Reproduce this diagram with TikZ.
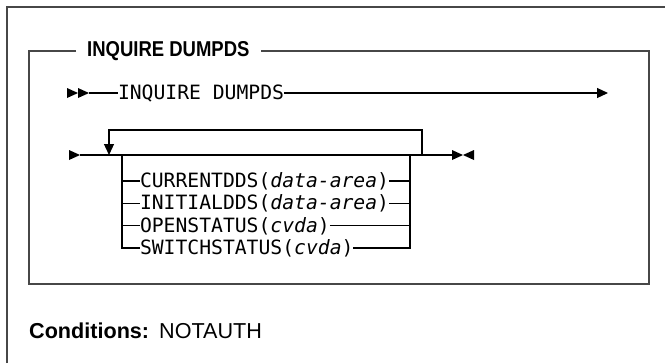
\documentclass[tikz,border=0pt]{standalone}
\usepackage{fontspec}
\setmainfont{Liberation Sans}
\newfontfamily\monofont{DejaVu Sans Mono}
\newfontfamily\headfont[FakeStretch=0.86]{Liberation Sans Bold}
\usetikzlibrary{arrows.meta}
\begin{document}
\begin{tikzpicture}[x=1bp,y=-1bp,
  frame/.style={draw=black!72, line width=1.5bp},
  rail/.style={draw=black, line width=1.2bp},
  kw/.style={font=\monofont\fontsize{19.7bp}{22bp}\selectfont, anchor=west,
    inner sep=0pt, outer sep=0pt, text height=13bp, text depth=0pt},
  heading/.style={font=\headfont\fontsize{21.5bp}{24bp}\selectfont, anchor=west,
    inner xsep=11bp, inner ysep=0pt},
  endarrow/.style={-{Triangle[length=11bp,width=10bp]}},
  rtri/.pic={\fill (0,-5) -- (11,0) -- (0,5) -- cycle;},
  ltri/.pic={\fill (11,-5) -- (0,0) -- (11,5) -- cycle;},
]
\useasboundingbox (0,0) rectangle (665,363);

% outer frame, open to the right and below
\coordinate (ob) at (7,363);
\coordinate (oc) at (7,7);
\coordinate (or) at (665,7);
\draw[frame] (ob) -- (oc) -- (or);

% titled syntax box
\node[heading] (title) at (76,51) {INQUIRE DUMPDS};
\coordinate (bl) at (29,284);
\coordinate (br) at (649,284);
\draw[frame] (title.west) -| (bl) -- (br) |- (title.east);

% first line: the command
\pic at (67,93) {rtri};
\pic at (78,93) {rtri};
\coordinate (s1) at (89,93);
\node[kw] (cmd) at (118,93) {INQUIRE DUMPDS};
\coordinate (e1) at (608,93);
\draw[rail] (s1) -- (cmd.west);
\draw[rail, endarrow] (cmd.east) -- (e1);

% second line: repeatable options
\pic at (69,155) {rtri};
\coordinate (s2) at (80,155);
\coordinate (e2) at (452,155);
\draw[rail] (s2) -- (e2);
\pic at (452,155) {rtri};
\pic at (463,155) {ltri};

% repeat loop
\coordinate (lr) at (422,155);
\coordinate (lt) at (109,130);
\coordinate (ll) at (109,155);
\draw[rail, endarrow] (lr) |- (lt) -- (ll);

% option stack
\coordinate (rl) at (122,155);
\coordinate (rr) at (410,155);
\node[kw] (o1) at (140,181)   {CURRENTDDS(\textit{data-area})};
\node[kw] (o2) at (140,203.3) {INITIALDDS(\textit{data-area})};
\node[kw] (o3) at (140,225.6) {OPENSTATUS(\textit{cvda})};
\node[kw] (o4) at (140,248)   {SWITCHSTATUS(\textit{cvda})};
\foreach \o in {o1,o2,o3,o4} {
  \draw[rail] (rl) |- (\o.west);
  \draw[rail] (\o.east) -| (rr);
}

% conditions
\node[anchor=base west, inner sep=0pt, font=\fontsize{21.6bp}{24bp}\selectfont]
  (cond) at (29,338) {\textbf{Conditions:}\hspace{10bp}NOTAUTH};
\end{tikzpicture}
\end{document}
